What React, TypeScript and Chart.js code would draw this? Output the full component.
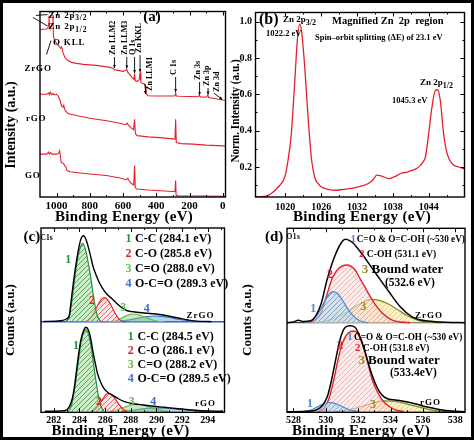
import React, { useEffect, useRef } from 'react';
import { Chart, registerables } from 'chart.js';

Chart.register(...registerables);

type P = [number, number];
const FONT = '"Liberation Serif", "Times New Roman", serif';

// ---------- (a) XPS survey: binding energy (eV), intensity (a.u.)
const surveyTicks = [0, 200, 400, 600, 800, 1000];
const surveyMinor = [100, 300, 500, 700, 900];
const surveyZrGO: P[] = [
  [1100, 170], [1062, 170.5], [1052, 171], [1048, 176], [1046, 184], [1044, 174], [1041, 172], [1032, 173], [1025, 176],
  [1022, 185], [1019, 163], [1012, 159], [1000, 156], [985, 153], [975, 151], [970, 152.5], [966, 150.5], [960, 146],
  [950, 142], [935, 139], [910, 137], [880, 136], [840, 135], [760, 134], [680, 132], [660, 131], [652, 129.5],
  [630, 129], [600, 128], [585, 129], [578, 130], [572, 127], [560, 125], [545, 121.5], [535, 120], [531, 126],
  [527, 118.5], [515, 118], [503, 119.5], [498, 127], [493, 117], [482, 115.5], [472, 115.5], [466, 111], [460, 105.5],
  [452, 103.5], [400, 103.3], [300, 103.2], [288, 103.5], [284, 106.5], [280, 103.2], [260, 103], [200, 102.8],
  [150, 102.5], [141, 104], [136, 102.4], [100, 102], [90, 104.5], [86, 101.8], [60, 101], [30, 100], [12, 99.5],
  [8, 100.5], [4, 99.3], [-16, 99],
];
const surveyRGO: P[] = [
  [1100, 105], [1060, 105], [1047, 106.5], [1044, 104.5], [1038, 107], [1030, 104.5], [1022, 106], [1015, 104.5],
  [1000, 105], [990, 103], [982, 100], [976, 97], [970, 93], [962, 92], [957, 94], [952, 90], [945, 88], [930, 85.5],
  [900, 84.5], [860, 83], [800, 81], [740, 79.5], [680, 78], [620, 76], [585, 74.5], [575, 76], [568, 74], [550, 71],
  [537, 69.5], [531, 80], [526, 65.5], [515, 63.5], [450, 62.3], [380, 61.5], [300, 60.3], [288, 60], [284, 80],
  [280, 56.5], [250, 55.5], [180, 55], [100, 54], [0, 53.3], [-16, 53],
];
const surveyGO: P[] = [
  [1100, 45], [1060, 45], [1048, 47], [1044, 45], [1036, 46.5], [1028, 45], [1000, 45], [988, 46], [982, 48.5],
  [978, 44], [973, 37], [965, 36], [958, 35.5], [952, 33.5], [944, 32], [937, 28.5], [920, 27.3], [870, 26.3],
  [800, 25], [700, 23.5], [620, 21], [580, 19.3], [572, 20.8], [565, 18.5], [550, 15.5], [536, 14], [531, 33.5],
  [527, 11.5], [518, 10], [450, 9], [350, 8], [300, 7.5], [288, 7.3], [284, 18.5], [281, 4], [270, 3.3], [150, 3],
  [0, 2.7], [-16, 2.7],
];

// ---------- (b) Zn 2p region of ZrGO: binding energy (eV), normalised intensity
const zn2pTicksX = [1020, 1026, 1032, 1038, 1044];
const zn2pMinorX = [1017, 1023, 1029, 1035, 1041, 1047];
const zn2pTicksY = [0.2, 0.4, 0.6, 0.8, 1.0];
const zn2pMinorY = [0.1, 0.3, 0.5, 0.7, 0.9];
const zn2pZrGO: P[] = [
  [1014, 0.036], [1015.5, 0.037], [1016.8, 0.04], [1017.65, 0.054], [1018.8, 0.09], [1019.9, 0.145], [1020.45, 0.237],
  [1021.0, 0.383], [1021.55, 0.657], [1022.0, 0.894], [1022.4, 0.986], [1022.7, 0.95], [1023.25, 0.748], [1023.8, 0.474],
  [1024.4, 0.237], [1024.9, 0.145], [1025.5, 0.108], [1026.05, 0.09], [1027.2, 0.077], [1028.3, 0.072], [1029.7, 0.077],
  [1031.1, 0.082], [1032.5, 0.093], [1033.9, 0.109], [1034.7, 0.13], [1035.3, 0.155], [1036.15, 0.15], [1037.3, 0.136],
  [1038.4, 0.149], [1039.5, 0.167], [1040.4, 0.172], [1041.2, 0.182], [1042.0, 0.192], [1042.6, 0.209], [1043.1, 0.23],
  [1043.45, 0.255], [1044.0, 0.383], [1044.55, 0.529], [1045.1, 0.62], [1045.5, 0.625], [1045.95, 0.566], [1046.5, 0.383],
  [1047.1, 0.273], [1047.9, 0.219], [1049.0, 0.2], [1050, 0.19],
];

// ---------- (c) C 1s deconvolution: binding energy (eV), counts (a.u.)
const c1sTicks = [282, 284, 286, 288, 290, 292, 294];
const c1sMinor = [283, 285, 287, 289, 291, 293, 295];
const c1sZrGOBase = 90.6;
const c1sRGOBase = 1;
const c1sZrGOEnvelope: P[] = [
  [281.2, 90.8], [282.5, 91.5], [283.0, 93.5], [283.2, 97], [283.4, 117], [283.6, 137], [283.8, 154], [284.0, 168],
  [284.15, 174.5], [284.3, 176.6], [284.5, 173], [284.85, 157], [285.05, 146], [285.3, 137], [285.55, 129.5], [285.8, 124],
  [286.1, 118.5], [286.5, 114], [286.85, 109.5], [287.2, 105.6], [287.6, 102.3], [287.9, 101], [288.2, 100.5],
  [288.85, 99.5], [289.3, 99], [289.8, 98.5], [290.4, 97.5], [291.1, 95.8], [291.8, 94], [292.4, 92.5], [292.9, 91.4],
  [293.6, 90.9], [294.3, 90.7],
];
const c1sZrGO_CC: P[] = [
  [282.9, 90.6], [283.1, 93], [283.2, 95], [283.4, 110.6], [283.66, 137], [283.9, 157], [284.1, 166], [284.25, 169],
  [284.5, 161], [284.85, 137], [285.2, 107.3], [285.4, 96], [285.6, 91.5], [285.8, 90.6],
];
const c1sZrGO_CO: P[] = [
  [284.4, 90.6], [284.7, 92], [285.0, 97], [285.3, 104], [285.6, 111], [285.9, 114.6], [286.2, 112.5], [286.5, 106],
  [286.8, 98.5], [287.1, 93], [287.4, 90.8], [287.6, 90.6],
];
const c1sZrGO_CdO: P[] = [
  [286.3, 90.6], [286.8, 91.6], [287.3, 94.3], [287.75, 97], [288.15, 98.3], [288.6, 97.5], [289.1, 95.3], [289.6, 92.8],
  [290.1, 91], [290.6, 90.6],
];
const c1sZrGO_OCO: P[] = [
  [286.5, 90.6], [287.3, 91.3], [288.0, 92.6], [288.7, 94.5], [289.3, 95.8], [289.8, 96.3], [290.4, 96], [291.0, 94.8],
  [291.7, 93.1], [292.4, 91.7], [293.2, 90.8], [293.8, 90.6],
];
const c1sRGOEnvelope: P[] = [
  [281.3, 1], [282.5, 1.3], [283.0, 2.5], [283.4, 12], [283.6, 25], [283.77, 42], [283.95, 60], [284.1, 72], [284.3, 81],
  [284.5, 85], [284.7, 82], [284.9, 72], [285.07, 59], [285.25, 48], [285.4, 39], [285.65, 30], [285.9, 24], [286.2, 20],
  [286.6, 17], [287.0, 13.8], [287.5, 10.7], [288.2, 8.6], [289.0, 7.3], [289.8, 6], [290.6, 5], [291.5, 3.8],
  [292.3, 2.8], [293.0, 2], [294.0, 1.3], [295.2, 1],
];
const c1sRGO_CC: P[] = [
  [283.1, 1], [283.35, 6], [283.6, 22], [283.85, 45], [284.1, 68], [284.3, 79], [284.5, 82.5], [284.7, 78], [284.9, 66],
  [285.1, 48], [285.3, 30], [285.5, 15], [285.7, 5], [285.9, 1],
];
const c1sRGO_CO: P[] = [
  [284.9, 1], [285.2, 3], [285.5, 7.5], [285.8, 13], [286.05, 17.5], [286.25, 19], [286.5, 17.5], [286.8, 13],
  [287.1, 7.5], [287.4, 3], [287.7, 1],
];
const c1sRGO_CdO: P[] = [
  [286.3, 1], [286.9, 2.5], [287.5, 5], [288.0, 7.3], [288.4, 8.2], [288.8, 7.8], [289.3, 6], [289.8, 3.8], [290.3, 2],
  [290.9, 1],
];
const c1sRGO_OCO: P[] = [
  [287.3, 1], [288.0, 1.8], [288.8, 3.2], [289.5, 4.1], [290.2, 4.4], [290.9, 4.1], [291.6, 3.3], [292.4, 2.3],
  [293.2, 1.5], [294.2, 1],
];
const c1sLegendZrGO = ['C-C (284.1 eV)', 'C-O (285.8 eV)', 'C=O (288.0 eV)', 'O-C=O (289.3 eV)'];
const c1sLegendRGO = ['C-C (284.5 eV)', 'C-O (286.1 eV)', 'C=O (288.2 eV)', 'O-C=O (289.5 eV)'];

// ---------- (d) O 1s deconvolution: binding energy (eV), counts (a.u.)
const o1sTicks = [528, 530, 532, 534, 536, 538];
const o1sMinor = [529, 531, 533, 535, 537];
const o1sZrGOBase = 89.6;
const o1sRGOBase = 0.6;
const o1sZrGOEnvelope: P[] = [
  [527.6, 89.6], [528.0, 90.3], [528.3, 92], [528.6, 90.8], [529.1, 91.5], [529.35, 95.6], [529.7, 108], [530.1, 134],
  [530.6, 158], [531.0, 170.5], [531.2, 173], [531.5, 171.5], [531.7, 169], [532.2, 159], [532.8, 145.5], [533.3, 134],
  [533.9, 120.5], [534.6, 105.5], [535.3, 95.6], [535.8, 92.5], [536.3, 91.2], [537.4, 90], [538.6, 89.6],
];
const o1sZrGO_CO: P[] = [
  [528.7, 89.6], [529.1, 92], [529.5, 98], [529.8, 107], [530.1, 116], [530.4, 120.6], [530.7, 119], [531.0, 113],
  [531.3, 105], [531.7, 96.5], [532.1, 91.5], [532.6, 89.6],
];
const o1sZrGO_COH: P[] = [
  [528.9, 89.6], [529.3, 91.5], [529.7, 99], [530.05, 117], [530.4, 134], [530.8, 144], [531.3, 147.3], [531.8, 142.5],
  [532.1, 134], [532.4, 125.6], [532.7, 117], [533.0, 109], [533.5, 99], [534.0, 93], [534.6, 90.3], [535.2, 89.6],
];
const o1sZrGO_H2O: P[] = [
  [529.2, 89.6], [529.9, 91], [530.6, 94.5], [531.3, 100], [531.9, 106.5], [532.4, 111], [532.8, 113], [533.3, 112],
  [533.9, 108], [534.5, 102], [535.1, 96], [535.7, 92], [536.4, 90.2], [537.2, 89.6],
];
const o1sRGOEnvelope: P[] = [
  [527.6, 0.6], [529.1, 1.3], [529.5, 3], [529.8, 7], [530.1, 16], [530.35, 32], [530.6, 52], [530.9, 74], [531.2, 85],
  [531.5, 86.5], [531.8, 85], [532.1, 76], [532.4, 62], [532.7, 45], [533.0, 31], [533.3, 21], [533.6, 15.5],
  [533.9, 13], [534.3, 12.3], [534.8, 11], [535.5, 8.5], [536.2, 5.5], [537.0, 2.8], [537.8, 1.2], [538.6, 0.6],
];
const o1sRGO_CO: P[] = [
  [528.6, 0.6], [529.1, 2.5], [529.6, 6.5], [530.0, 9.3], [530.3, 9.6], [530.7, 8], [531.1, 5], [531.5, 2.3], [532.0, 0.8],
];
const o1sRGO_COH: P[] = [
  [529.5, 0.6], [529.9, 4], [530.2, 14], [530.5, 33], [530.8, 56], [531.1, 72], [531.4, 79.5], [531.7, 81.3], [532.0, 78],
  [532.3, 66], [532.6, 49], [532.9, 31], [533.2, 20], [533.5, 12], [533.9, 6], [534.3, 2.5], [534.8, 0.8],
];
const o1sRGO_H2O: P[] = [
  [530.6, 0.6], [531.4, 2.5], [532.2, 5.8], [532.9, 9.3], [533.6, 11.5], [534.3, 11], [535.0, 8.5], [535.7, 5.5],
  [536.5, 2.5], [537.3, 0.9], [538, 0.6],
];

// ---------------------------------------------------------------- helpers
interface Geom { cl: number; ct: number; cw: number; ch: number; L: number; T: number; R: number; B: number }
interface AxisSpec {
  min: number; max: number; reverse?: boolean; ticks?: number[]; minor?: number[];
  size?: number; pad?: number; fmt?: (v: number) => string; labels?: boolean;
}
type TOpt = {
  size?: number; color?: string; align?: CanvasTextAlign; base?: CanvasTextBaseline;
  rot?: number; sx?: number; weight?: string; ls?: number;
};

function T(ctx: CanvasRenderingContext2D, s: string, x: number, y: number, o: TOpt = {}) {
  ctx.save();
  ctx.translate(x, y);
  if (o.rot) ctx.rotate(o.rot);
  if (o.sx) ctx.scale(o.sx, 1);
  ctx.font = `${o.weight ?? 'bold'} ${o.size ?? 10}px ${FONT}`;
  ctx.fillStyle = o.color ?? '#000';
  ctx.textAlign = o.align ?? 'left';
  ctx.textBaseline = o.base ?? 'alphabetic';
  (ctx as any).letterSpacing = (o.ls ?? 0) + 'px';
  ctx.fillText(s, 0, 0);
  (ctx as any).letterSpacing = '0px';
  ctx.restore();
}

function TSub(ctx: CanvasRenderingContext2D, main: string, sub: string, x: number, y: number, size: number, subSize: number, ls = 0) {
  ctx.save();
  ctx.font = `bold ${size}px ${FONT}`;
  (ctx as any).letterSpacing = ls + 'px';
  ctx.fillStyle = '#000';
  ctx.textAlign = 'left';
  ctx.textBaseline = 'alphabetic';
  ctx.fillText(main, x, y);
  const w = ctx.measureText(main).width;
  ctx.font = `bold ${subSize}px ${FONT}`;
  ctx.fillText(sub, x + w, y + size * 0.3);
  (ctx as any).letterSpacing = '0px';
  ctx.restore();
}

function line(ctx: CanvasRenderingContext2D, x0: number, y0: number, x1: number, y1: number) {
  ctx.beginPath();
  ctx.moveTo(x0, y0);
  ctx.lineTo(x1, y1);
  ctx.stroke();
}

function arrow(ctx: CanvasRenderingContext2D, x0: number, y0: number, x1: number, y1: number, head = 3.2) {
  line(ctx, x0, y0, x1, y1);
  const ang = Math.atan2(y1 - y0, x1 - x0);
  ctx.beginPath();
  ctx.moveTo(x1, y1);
  ctx.lineTo(x1 - head * Math.cos(ang - 0.45), y1 - head * Math.sin(ang - 0.45));
  ctx.lineTo(x1 - head * Math.cos(ang + 0.45), y1 - head * Math.sin(ang + 0.45));
  ctx.closePath();
  ctx.fill();
}

function hatch(ctx: CanvasRenderingContext2D, bg: string, fg: string, size = 5, lw = 0.9): CanvasPattern {
  const c = document.createElement('canvas');
  c.width = size;
  c.height = size;
  const g = c.getContext('2d')!;
  g.fillStyle = bg;
  g.fillRect(0, 0, size, size);
  g.strokeStyle = fg;
  g.lineWidth = lw;
  g.beginPath();
  g.moveTo(0, size);
  g.lineTo(size, 0);
  g.moveTo(-1, 1);
  g.lineTo(1, -1);
  g.moveTo(size - 1, size + 1);
  g.lineTo(size + 1, size - 1);
  g.stroke();
  return ctx.createPattern(c, 'repeat')!;
}

function ds(pts: P[], color: string, width: number, smooth: boolean, fill: any = false, bg: any = 'transparent') {
  return {
    data: pts.map(([x, y]) => ({ x, y })),
    borderColor: color,
    borderWidth: width,
    pointRadius: 0,
    fill,
    backgroundColor: bg,
    tension: 0,
    cubicInterpolationMode: smooth ? 'monotone' : 'default',
  };
}

type Annot = (ctx: CanvasRenderingContext2D, px: (v: number) => number, py: (v: number) => number) => void;

function build(canvas: HTMLCanvasElement, g: Geom, datasets: any[], xs: AxisSpec, ys: AxisSpec, annotate: Annot) {
  const showY = !!ys.labels;
  const deco = {
    id: 'deco',
    afterDraw(chart: any) {
      const ctx: CanvasRenderingContext2D = chart.ctx;
      const a = chart.chartArea;
      const sx = chart.scales.x;
      const sy = chart.scales.y;
      ctx.save();
      ctx.strokeStyle = '#000';
      ctx.fillStyle = '#000';
      ctx.lineWidth = 1;
      const tx = (v: number, len: number) => {
        const p = Math.round(sx.getPixelForValue(v)) + 0.5;
        line(ctx, p, a.bottom, p, a.bottom - len);
        line(ctx, p, a.top, p, a.top + len);
      };
      const ty = (v: number, len: number) => {
        const p = Math.round(sy.getPixelForValue(v)) + 0.5;
        line(ctx, a.left, p, a.left + len, p);
        line(ctx, a.right, p, a.right - len, p);
      };
      (xs.ticks ?? []).forEach((v) => tx(v, 4));
      (xs.minor ?? []).forEach((v) => tx(v, 2));
      (ys.ticks ?? []).forEach((v) => ty(v, 4));
      (ys.minor ?? []).forEach((v) => ty(v, 2));
      ctx.lineWidth = 1.4;
      ctx.strokeRect(a.left, a.top, a.right - a.left, a.bottom - a.top);
      ctx.translate(-g.cl, -g.ct);
      ctx.lineWidth = 0.9;
      annotate(ctx, (v) => sx.getPixelForValue(v) + g.cl, (v) => sy.getPixelForValue(v) + g.ct);
      ctx.restore();
    },
  };
  const tickFont = (size: number) => ({ family: FONT, weight: 'bold' as const, size });
  return new Chart(canvas, {
    type: 'line',
    data: { datasets },
    plugins: [deco],
    options: {
      responsive: false,
      animation: false,
      devicePixelRatio: 1,
      events: [],
      layout: {
        padding: {
          left: showY ? 0 : g.L - g.cl,
          top: g.T - g.ct,
          right: g.cl + g.cw - g.R,
          bottom: 0,
        },
      },
      plugins: { legend: { display: false }, tooltip: { enabled: false }, title: { display: false } },
      scales: {
        x: {
          type: 'linear',
          min: xs.min,
          max: xs.max,
          reverse: !!xs.reverse,
          grid: { display: false, drawTicks: false },
          border: { display: false },
          afterBuildTicks: (s: any) => {
            s.ticks = (xs.ticks ?? []).map((v) => ({ value: v }));
          },
          afterFit: (s: any) => {
            s.height = g.ct + g.ch - g.B;
          },
          ticks: {
            padding: xs.pad ?? 2.5,
            color: '#000',
            font: tickFont(xs.size ?? 10),
            maxRotation: 0,
            autoSkip: false,
            callback: (v: any) => (xs.fmt ? xs.fmt(Number(v)) : String(v)),
          },
        },
        y: {
          type: 'linear',
          min: ys.min,
          max: ys.max,
          display: showY,
          grid: { display: false, drawTicks: false },
          border: { display: false },
          afterBuildTicks: (s: any) => {
            s.ticks = (ys.ticks ?? []).map((v) => ({ value: v }));
          },
          afterFit: (s: any) => {
            s.width = g.L - g.cl;
          },
          ticks: {
            padding: ys.pad ?? 5,
            color: '#000',
            font: tickFont(ys.size ?? 10),
            autoSkip: false,
            callback: (v: any) => (ys.fmt ? ys.fmt(Number(v)) : String(v)),
          },
        },
      },
    } as any,
  });
}

// panel geometry (page pixels): canvas rect and chart-area rect
const GA: Geom = { cl: 3, ct: 3, cw: 227, ch: 222, L: 21.5, T: 11.5, R: 225.5, B: 197 };
const GB: Geom = { cl: 229, ct: 3, cw: 242, ch: 222, L: 255.5, T: 11.5, R: 464.5, B: 197 };
const GC: Geom = { cl: 3, ct: 225, cw: 237, ch: 212, L: 22, T: 228, R: 224.5, B: 412.3 };
const GD: Geom = { cl: 240, ct: 225, cw: 231, ch: 212, L: 263.5, T: 228.3, R: 465, B: 412.3 };

const RED = '#e5202e';
const ROT = -Math.PI / 2;

function makeA(cv: HTMLCanvasElement) {
  const sets = [
    ds(surveyZrGO, RED, 1.1, false),
    ds(surveyRGO, RED, 1.1, false),
    ds(surveyGO, RED, 1.1, false),
  ];
  const peaks: [string, number, number, number, number][] = [
    ['Zn LLM2', 652, 55, 57, 68],
    ['Zn LLM3', 578, 55, 57, 68.5],
    ['O 1s', 531, 55, 57, 73],
    ['Zn KKL', 498, 53, 55, 72],
    ['C 1s', 284, 75, 77, 92],
    ['Zn 3s', 140, 80, 82, 95],
    ['Zn 3p', 89, 86, 88, 94.5],
  ];
  return build(cv, GA, sets,
    { min: -16, max: 1100, reverse: true, ticks: surveyTicks, minor: surveyMinor, size: 11, pad: 2.5 },
    { min: 2, max: 188 },
    (ctx, px) => {
      T(ctx, '(a)', 152, 21, { size: 15, align: 'center' });
      TSub(ctx, 'Zn 2p', '3/2', 48.5, 17.5, 9, 7.5, 0.8);
      TSub(ctx, 'Zn 2p', '1/2', 48.5, 29, 9, 7.5, 0.8);
      line(ctx, 47.5, 14.5, 36, 15.5);
      line(ctx, 47.5, 26, 33, 17.5);
      line(ctx, 46.5, 54.5, 51, 40.5);
      T(ctx, 'O KLL', 53, 45, { size: 9, ls: 0.8 });
      T(ctx, 'ZrGO', 24.5, 71, { size: 9, ls: 0.8 });
      T(ctx, 'rGO', 26, 120.5, { size: 9, ls: 0.8 });
      T(ctx, 'GO', 25, 177.5, { size: 9, ls: 0.8 });
      for (const [t, ev, tb, a0, a1] of peaks) {
        const x = px(ev);
        T(ctx, t, x - 1.5, tb, { size: 8.5, rot: ROT, base: 'middle', sx: 0.95 });
        arrow(ctx, x, a0, x, a1);
      }
      const xl = px(466);
      T(ctx, 'Zn LLM1', xl + 4, 91, { size: 8.5, rot: ROT, base: 'middle', sx: 0.95 });
      arrow(ctx, xl, 84, xl, 94);
      T(ctx, 'Zn 3d', 216.5, 92, { size: 8.5, rot: ROT, base: 'middle', sx: 0.95 });
      arrow(ctx, 214, 93, px(4), 99.5);
      T(ctx, 'Binding Energy (eV)', 124, 221, { size: 15, align: 'center', ls: 0.3 });
      T(ctx, 'Intensity (a.u.)', 11, 125, { size: 14, rot: ROT, align: 'center', base: 'middle' });
    });
}

function makeB(cv: HTMLCanvasElement) {
  const sets = [ds(zn2pZrGO, RED, 1.3, true)];
  return build(cv, GB, sets,
    { min: 1015, max: 1050, ticks: zn2pTicksX, minor: zn2pMinorX, size: 10, pad: 4 },
    { min: 0.035, max: 1.05, ticks: zn2pTicksY, minor: zn2pMinorY, labels: true, size: 10, pad: 3.5, fmt: (v) => v.toFixed(1) },
    (ctx) => {
      T(ctx, '(b)', 259, 24, { size: 16 });
      TSub(ctx, 'Zn 2p', '3/2', 283, 22, 9, 8);
      T(ctx, '1022.2 eV', 266, 36, { size: 8.5 });
      T(ctx, 'Magnified Zn  2p  region', 332, 24, { size: 10.5 });
      T(ctx, 'Spin\u2013orbit splitting (\u0394E) of 23.1 eV', 315, 40, { size: 8.5 });
      TSub(ctx, 'Zn 2p', '1/2', 420, 85, 9, 8);
      T(ctx, '1045.3 eV', 392, 102.5, { size: 8.5 });
      T(ctx, 'Binding Energy (eV)', 362, 221, { size: 15, align: 'center', ls: 0.3 });
      T(ctx, 'Norm. Intensity (a.u.)', 235.5, 111, { size: 12, rot: ROT, align: 'center', base: 'middle', sx: 0.93 });
    });
}

function makeC(cv: HTMLCanvasElement) {
  const ctx0 = cv.getContext('2d')!;
  const G1 = '#23913f', R2 = '#e3242b', G3 = '#62bd46', B4 = '#3c6fd0';
  const pG = hatch(ctx0, 'rgba(175,222,165,0.6)', 'rgba(40,150,60,0.85)');
  const pR = hatch(ctx0, 'rgba(250,205,205,0.5)', 'rgba(225,50,50,0.75)');
  const f3 = 'rgba(140,205,110,0.45)';
  const f4 = 'rgba(80,170,190,0.45)';
  const sets = [
    ds(c1sZrGOEnvelope, '#000', 1.4, true),
    ds(c1sRGOEnvelope, '#000', 1.4, true),
    ds(c1sZrGO_CC, G1, 1.2, true, { value: c1sZrGOBase }, pG),
    ds(c1sZrGO_CO, R2, 1.2, true, { value: c1sZrGOBase }, pR),
    ds(c1sZrGO_CdO, G3, 1.2, true, { value: c1sZrGOBase }, f3),
    ds(c1sZrGO_OCO, B4, 1.2, true, { value: c1sZrGOBase }, f4),
    ds(c1sRGO_CC, G1, 1.2, true, { value: c1sRGOBase }, pG),
    ds(c1sRGO_CO, R2, 1.2, true, { value: c1sRGOBase }, pR),
    ds(c1sRGO_CdO, G3, 1.2, true, { value: c1sRGOBase }, f3),
    ds(c1sRGO_OCO, B4, 1.2, true, { value: c1sRGOBase }, f4),
    ds([[281, c1sZrGOBase], [295.3, c1sZrGOBase]], '#3052d0', 1.6, false),
  ];
  const cols = [G1, R2, G3, B4];
  return build(cv, GC, sets,
    { min: 281, max: 295.3, ticks: c1sTicks, minor: c1sMinor, size: 10, pad: 2.5 },
    { min: 0, max: 184.3 },
    (ctx) => {
      T(ctx, '(c)', 23.5, 241, { size: 15 });
      T(ctx, 'C1s', 40.5, 240, { size: 7.5 });
      c1sLegendZrGO.forEach((s, i) => {
        const y = 241.8 + 15 * i;
        T(ctx, String(i + 1), 128.5, y, { size: 12, color: cols[i], align: 'center' });
        T(ctx, s, 135, y, { size: 12 });
      });
      c1sLegendRGO.forEach((s, i) => {
        const y = 340 + 14 * i;
        T(ctx, String(i + 1), 130.7, y, { size: 12, color: cols[i], align: 'center' });
        T(ctx, s, 137.5, y, { size: 12 });
      });
      T(ctx, 'ZrGO', 186.5, 317.5, { size: 9, ls: 1 });
      T(ctx, 'rGO', 195, 405.5, { size: 9, ls: 1 });
      const lab: [string, number, number, string][] = [
        ['1', 68.3, 260, G1], ['2', 92, 301, R2], ['3', 123.3, 308, G3], ['4', 146.7, 309, B4],
        ['1', 76, 346, G1], ['2', 99, 401.7, R2], ['3', 131.7, 402, G3], ['4', 153.3, 401.7, B4],
      ];
      lab.forEach(([s, x, y, c]) => T(ctx, s, x, y, { size: 12, color: c, align: 'center', base: 'middle' }));
      T(ctx, 'Binding Energy (eV)', 120.5, 435, { size: 15, align: 'center', ls: 0.3 });
      T(ctx, 'Counts (a.u.)', 10.5, 320, { size: 13, rot: ROT, align: 'center', base: 'middle' });
    });
}

function makeD(cv: HTMLCanvasElement) {
  const ctx0 = cv.getContext('2d')!;
  const B1 = '#4f86d4', R2 = '#e3202c', O3 = '#7d8a24', O3t = '#a08a20';
  const pB = hatch(ctx0, 'rgba(175,215,235,0.55)', 'rgba(70,140,200,0.6)');
  const pR = hatch(ctx0, 'rgba(250,222,222,0.55)', 'rgba(230,120,120,0.55)');
  const pO = hatch(ctx0, 'rgba(245,230,150,0.55)', 'rgba(200,170,90,0.5)');
  const sets = [
    ds(o1sZrGOEnvelope, '#000', 1.5, true),
    ds(o1sRGOEnvelope, '#000', 1.5, true),
    ds(o1sZrGO_CO, B1, 1.2, true, { value: o1sZrGOBase }, pB),
    ds(o1sZrGO_COH, R2, 1.4, true, { value: o1sZrGOBase }, pR),
    ds(o1sZrGO_H2O, O3, 1.2, true, { value: o1sZrGOBase }, pO),
    ds(o1sRGO_CO, B1, 1.2, true, { value: o1sRGOBase }, pB),
    ds(o1sRGO_COH, R2, 1.4, true, { value: o1sRGOBase }, pR),
    ds(o1sRGO_H2O, O3, 1.2, true, { value: o1sRGOBase }, pO),
    ds([[527.6, o1sZrGOBase], [538.6, o1sZrGOBase]], '#444', 1.2, false),
  ];
  return build(cv, GD, sets,
    { min: 527.6, max: 538.6, ticks: o1sTicks, minor: o1sMinor, size: 10, pad: 2.5 },
    { min: 0, max: 184 },
    (ctx) => {
      T(ctx, '(d)', 265, 241, { size: 15 });
      T(ctx, 'O1s', 286.5, 239, { size: 7.5, ls: 0.5 });
      T(ctx, '1', 353.3, 242, { size: 11, color: B1, align: 'center' });
      T(ctx, 'C=O & O=C-OH (~530 eV)', 356.7, 242, { size: 11, sx: 0.84 });
      T(ctx, '2', 361.7, 257, { size: 11, color: R2, align: 'center' });
      T(ctx, 'C-OH (531.1 eV)', 366.7, 257, { size: 11, sx: 0.88 });
      T(ctx, '3', 365, 272.5, { size: 13, color: O3t, align: 'center' });
      T(ctx, 'Bound water', 371.5, 272.5, { size: 13 });
      T(ctx, '(532.6 eV)', 385, 285.5, { size: 11.5 });
      T(ctx, 'ZrGO', 415, 318, { size: 9, ls: 1 });
      T(ctx, '1', 350, 340, { size: 11, color: B1, align: 'center' });
      T(ctx, 'C=O & O=C-OH (~530 eV)', 354, 340, { size: 11, sx: 0.84 });
      T(ctx, '2', 357.7, 351, { size: 11, color: R2, align: 'center' });
      T(ctx, 'C-OH (531.8 eV)', 363, 351, { size: 9.5, sx: 0.97 });
      T(ctx, '3', 361.7, 363.5, { size: 13, color: O3t, align: 'center' });
      T(ctx, 'Bound water', 368, 363.5, { size: 13 });
      T(ctx, '(533.4eV)', 390, 375.5, { size: 11.5 });
      T(ctx, 'rGO', 420, 405, { size: 9, ls: 1 });
      const lab: [string, number, number, string][] = [
        ['2', 330, 275, R2], ['1', 313.3, 309.3, B1], ['3', 363.3, 307.3, O3t],
        ['2', 340, 346, R2], ['1', 310, 404, B1], ['3', 373, 405, O3t],
      ];
      lab.forEach(([s, x, y, c]) => T(ctx, s, x, y, { size: 12, color: c, align: 'center', base: 'middle' }));
      T(ctx, 'Binding Energy (eV)', 361, 435, { size: 15, align: 'center', ls: 0.3 });
      T(ctx, 'Counts (a.u.)', 248, 320, { size: 13, rot: ROT, align: 'center', base: 'middle' });
    });
}

function Panel({ g, make }: { g: Geom; make: (cv: HTMLCanvasElement) => Chart }) {
  const ref = useRef<HTMLCanvasElement>(null);
  useEffect(() => {
    const chart = make(ref.current!);
    return () => chart.destroy();
  }, [g, make]);
  return (
    <canvas
      ref={ref}
      width={g.cw}
      height={g.ch}
      style={{ position: 'absolute', left: g.cl, top: g.ct, width: g.cw, height: g.ch }}
    />
  );
}

export default function App() {
  return (
    <div style={{ position: 'fixed', left: 0, top: 0, width: 474, height: 440, background: '#000', overflow: 'hidden' }}>
      <div style={{ position: 'absolute', left: 3, top: 3, width: 468, height: 434, background: '#fff' }} />
      <Panel g={GA} make={makeA} />
      <Panel g={GB} make={makeB} />
      <Panel g={GC} make={makeC} />
      <Panel g={GD} make={makeD} />
    </div>
  );
}
